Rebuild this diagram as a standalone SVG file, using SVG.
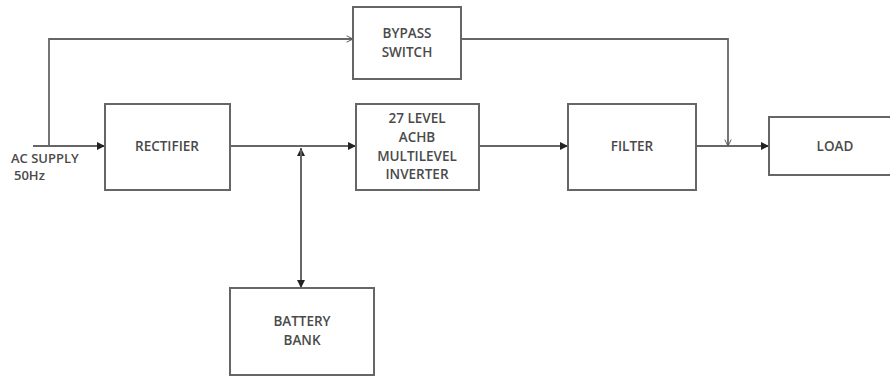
<svg xmlns="http://www.w3.org/2000/svg" width="890" height="376" viewBox="0 0 890 376">
<defs>
<marker id="arr" viewBox="0 0 10 10" refX="10" refY="5" markerWidth="11" markerHeight="8" markerUnits="userSpaceOnUse" orient="auto"><path d="M0,0 L10,5 L0,10 z" fill="#222"/></marker>
<marker id="open" viewBox="0 0 10 10" refX="10" refY="5" markerWidth="8" markerHeight="8" markerUnits="userSpaceOnUse" orient="auto"><path d="M2,1 L10,5 L2,9" fill="none" stroke="#555" stroke-width="1.2"/></marker>
</defs>
<style>
.box{fill:#fff;stroke:#666;stroke-width:2}
text{font-family:"Open Sans","Liberation Sans",sans-serif;font-size:13.5px;font-weight:600;fill:#4a4a4a;text-anchor:middle}
.lbl{text-anchor:start;font-size:13px}
.c{fill:none;stroke:#666;stroke-width:1.8}
</style>
<rect width="890" height="376" fill="#fff"/>
<g id="connectors">
<path class="c" d="M33,146 H105" marker-end="url(#arr)"/>
<path class="c" d="M49,146 V39 H353" marker-end="url(#open)"/>
<path class="c" d="M230,146 H356" marker-end="url(#arr)"/>
<path class="c" d="M301,288 V148" marker-end="url(#arr)"/>
<path class="c" d="M301,150 V288" marker-end="url(#arr)"/>
<path class="c" d="M479,146 H568" marker-end="url(#arr)"/>
<path class="c" d="M696,146 H769" marker-end="url(#arr)"/>
<path class="c" d="M461,39 H728 V146" marker-end="url(#open)"/>
</g>
<g id="ac-supply"><text class="lbl" x="11" y="163">AC SUPPLY</text><text class="lbl" x="14" y="180">50Hz</text></g>
<g id="bypass"><rect class="box" x="353" y="7" width="108" height="72"/><text x="407" y="38">BYPASS</text><text x="407" y="57">SWITCH</text></g>
<g id="rectifier"><rect class="box" x="105" y="104" width="125" height="86"/><text x="167" y="151">RECTIFIER</text></g>
<g id="inverter"><rect class="box" x="356" y="104" width="123" height="86"/><text x="417" y="123">27 LEVEL</text><text x="417" y="142">ACHB</text><text x="417" y="161">MULTILEVEL</text><text x="417" y="179">INVERTER</text></g>
<g id="filter"><rect class="box" x="568" y="104" width="128" height="86"/><text x="632" y="151">FILTER</text></g>
<g id="load"><rect class="box" x="769" y="117" width="124" height="58"/><text x="835" y="151">LOAD</text></g>
<g id="battery"><rect class="box" x="230" y="288" width="144" height="87"/><text x="302" y="326">BATTERY</text><text x="302" y="345">BANK</text></g>
</svg>
